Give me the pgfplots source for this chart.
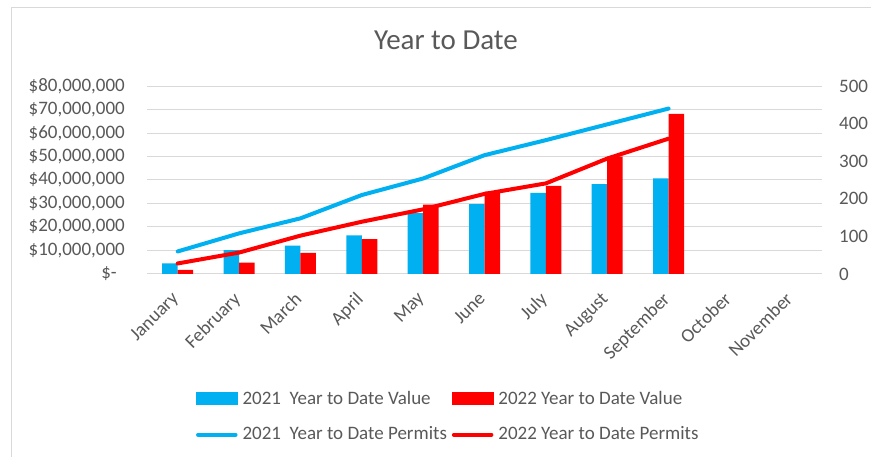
\documentclass[border=0pt]{standalone}
\usepackage{fontspec}
\setmainfont{Carlito}
\usepackage{pgfplots}
\pgfplotsset{compat=1.18}
\definecolor{cblue}{HTML}{00B0F0}
\definecolor{cred}{HTML}{FF0000}
\definecolor{txt}{HTML}{595959}
\definecolor{gridc}{HTML}{D9D9D9}
\begin{document}
\begin{tikzpicture}[x=1pt,y=1pt]
\useasboundingbox (0,0) rectangle (871,457);
\fill[white] (0,0) rectangle (871,457);
\draw[gridc, line width=1pt] (11,0) -- (11,449) -- (871,449);
\node[anchor=base, text=txt, inner sep=0pt, font=\fontsize{29}{34}\selectfont] at (446,407.7) {Year to Date};

\begin{axis}[
  at={(147pt,183pt)}, anchor=south west,
  scale only axis, width=675pt, height=188pt,
  xmin=-0.5, xmax=10.5, ymin=0, ymax=80000000,
  axis line style={draw=none}, major tick style={draw=none},
  ymajorgrids, grid style={gridc, line width=1pt},
  scaled y ticks=false,
  ytick={0,10000000,20000000,30000000,40000000,50000000,60000000,70000000,80000000},
  yticklabels={{\$-\hspace*{8pt}},{\$10,000,000},{\$20,000,000},{\$30,000,000},{\$40,000,000},{\$50,000,000},{\$60,000,000},{\$70,000,000},{\$80,000,000}},
  yticklabel style={text=txt, font=\fontsize{19}{23}\selectfont, anchor=east, inner sep=0pt, xshift=-22pt},
  xtick={0,1,2,3,4,5,6,7,8,9,10},
  xticklabels={January,February,March,April,May,June,July,August,September,October,November},
  xticklabel style={text=txt, font=\fontsize{19}{23}\selectfont, xshift=-7pt, yshift=-12.5pt, rotate=45, anchor=north east, inner sep=0pt},
  ybar=0pt, bar width=15.5pt,
]
\addplot[fill=cblue, draw=none] coordinates {(0,4500000) (1,10200000) (2,12100000) (3,16400000) (4,25900000) (5,29700000) (6,34500000) (7,38200000) (8,40700000)};
\addplot[fill=cred, draw=none] coordinates {(0,1800000) (1,4800000) (2,9000000) (3,14800000) (4,29500000) (5,35000000) (6,37500000) (7,49900000) (8,68100000)};
\end{axis}

\begin{axis}[
  at={(147pt,183pt)}, anchor=south west,
  scale only axis, width=675pt, height=188pt,
  xmin=-0.5, xmax=10.5, ymin=0, ymax=500,
  axis line style={draw=none}, major tick style={draw=none},
  xtick=\empty,
  ytick={0,100,200,300,400,500},
  yticklabels={0,100,200,300,400,500},
  yticklabel pos=right,
  yticklabel style={text=txt, font=\fontsize{19}{23}\selectfont, anchor=west, inner sep=0pt, xshift=17pt},
  legend columns=2,
  legend cell align=left,
  legend style={at={(axis description cs:0.0697,-0.621)}, anchor=north west, draw=none, fill=none,
    inner sep=0pt, outer sep=0pt, font=\fontsize{19}{23}\selectfont, text=txt,
    column sep=3pt, row sep=15.5pt,
    nodes={inner sep=0pt, text height=14pt, text depth=5pt},
    /tikz/every even column/.append style={column sep=3pt}},
]
\addlegendimage{legend image code/.code={\path (0pt,0pt) (41.5pt,0pt); \fill[cblue] (0pt,-4.4pt) rectangle (41.5pt,7.6pt);}}
\addlegendentry{2021~ Year to Date Value}
\addlegendimage{legend image code/.code={\path (0pt,0pt) (41.5pt,0pt); \fill[cred] (0pt,-4.4pt) rectangle (41.5pt,7.6pt);}}
\addlegendentry{2022 Year to Date Value}
\addplot[cblue, line width=4pt, line cap=round, line join=round,
  legend image code/.code={\path (0pt,0pt) (41.5pt,0pt); \draw[cblue, line width=4pt, line cap=round] (2pt,0pt) -- (39.5pt,0pt);}]
  coordinates {(0,60) (1,108) (2,148) (3,210) (4,254) (5,316) (6,356) (7,398) (8,440)};
\addlegendentry{2021~ Year to Date Permits}
\addplot[cred, line width=4pt, line cap=round, line join=round,
  legend image code/.code={\path (0pt,0pt) (41.5pt,0pt); \draw[cred, line width=4pt, line cap=round] (2pt,0pt) -- (39.5pt,0pt);}]
  coordinates {(0,28) (1,57) (2,102) (3,139) (4,172) (5,213) (6,241) (7,307) (8,360)};
\addlegendentry{2022 Year to Date Permits}
\end{axis}
\end{tikzpicture}
\end{document}
